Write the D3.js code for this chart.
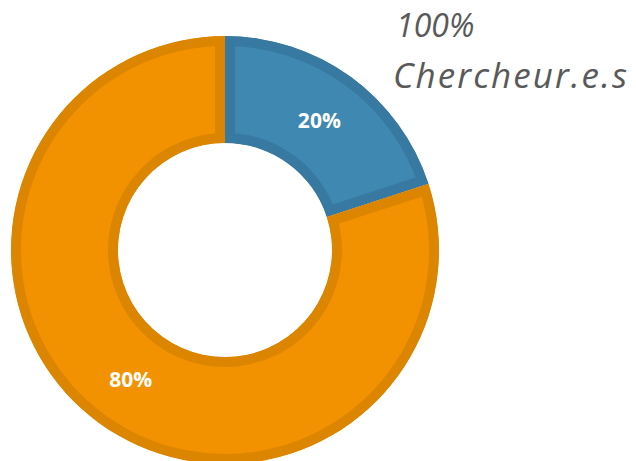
<!DOCTYPE html>
<html>
<head>
<meta charset="utf-8">
<script src="https://cdn.jsdelivr.net/npm/d3@7"></script>
<style>
  body { margin: 0; background: #fff; }
  svg { display: block; }
</style>
</head>
<body>
<svg id="chart"></svg>
<script>
const categories = ['Chercheuses', 'Chercheurs'];
const values = [20, 80];
const fills = ['#3e88b1', '#f39200'];
const strokes = ['#3779a0', '#dc8500'];
const title = ['100%', 'Chercheur.e.s'];

const width = 636, height = 461;
const cx = 225, cy = 250;
const outerR = 214, innerR = 107;

const svg = d3.select('#chart')
    .attr('width', width)
    .attr('height', height);

const g = svg.append('g')
    .attr('transform', `translate(${cx}, ${cy})`);

const pie = d3.pie().sort(null).value(d => d.value);
const arcs = pie(categories.map((c, i) => ({ key: c, value: values[i], i })));

const arc = d3.arc().innerRadius(innerR).outerRadius(outerR);

const defs = svg.append('defs');
arcs.forEach((d, i) => {
    defs.append('clipPath')
        .attr('id', `clip${i}`)
        .append('path')
        .attr('d', arc(d));
});

g.selectAll('.slice')
    .data(arcs)
    .join('path')
    .attr('class', 'slice')
    .attr('d', arc)
    .attr('fill', d => fills[d.data.i])
    .attr('stroke', d => strokes[d.data.i])
    .attr('stroke-width', 20)
    .attr('clip-path', (d, i) => `url(#clip${i})`);

g.selectAll('.lbl')
    .data(arcs)
    .join('text')
    .attr('class', 'lbl')
    .attr('transform', d => `translate(${arc.centroid(d)})`)
    .attr('dy', '0.35em')
    .attr('text-anchor', 'middle')
    .attr('fill', '#fff')
    .attr('font-family', 'Open Sans, sans-serif')
    .attr('font-weight', 'bold')
    .attr('font-size', 21)
    .text(d => d.data.value + '%');

// title lines
svg.append('text')
    .attr('x', 396)
    .attr('y', 37)
    .attr('fill', '#595959')
    .attr('font-family', 'Open Sans, sans-serif')
    .attr('font-style', 'italic')
    .attr('font-size', 32)
    .text(title[0]);

svg.append('text')
    .attr('x', 393)
    .attr('y', 88)
    .attr('fill', '#595959')
    .attr('font-family', 'Open Sans, sans-serif')
    .attr('font-style', 'italic')
    .attr('font-size', 35)
    .attr('textLength', 234)
    .attr('lengthAdjust', 'spacing')
    .text(title[1]);
</script>
</body>
</html>
